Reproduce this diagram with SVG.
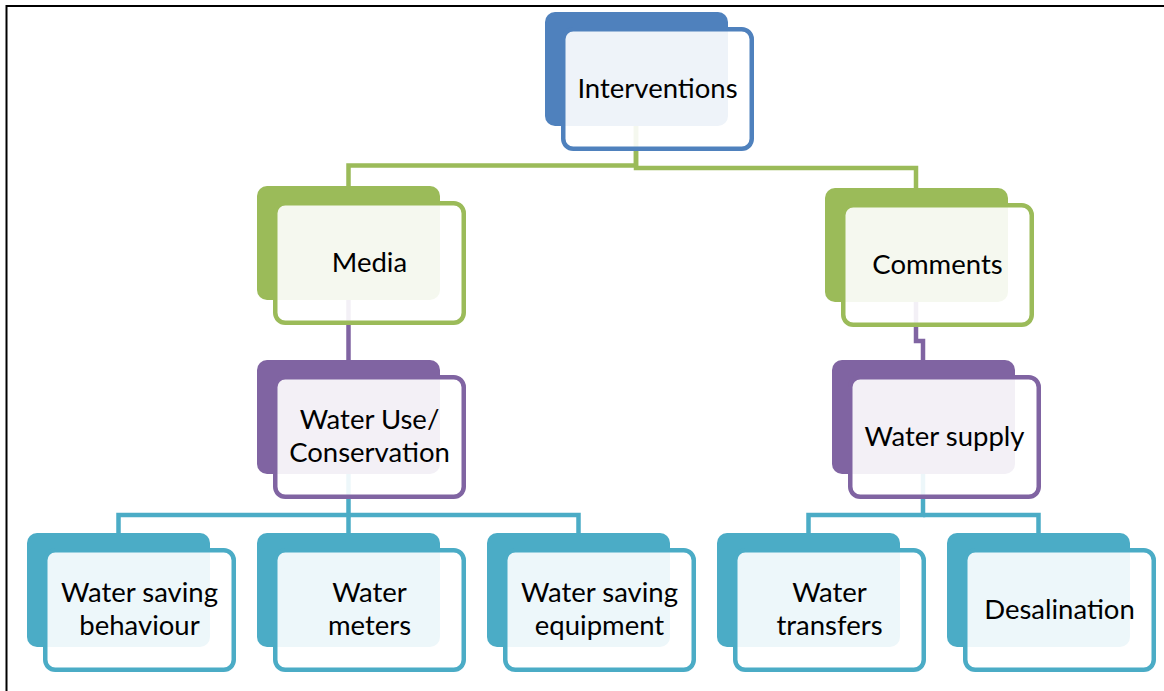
<svg xmlns="http://www.w3.org/2000/svg" width="1164" height="691" viewBox="0 0 1164 691">
  <style>
    .frame { stroke: #000; stroke-width: 2; fill: none; }
    .conn { fill: none; stroke-width: 4.5; stroke-linejoin: miter; }
    .back { stroke: none; }
    .front { fill: #fff; fill-opacity: 0.9; stroke-width: 4.5; }
    .label { font-family: Lato, "Liberation Sans", sans-serif; font-size: 27.5px; fill: #000; text-anchor: middle; }
    .blue .back { fill: #4F81BD; } .blue .front { stroke: #4F81BD; }
    .green .back { fill: #9BBB59; } .green .front { stroke: #9BBB59; }
    .purple .back { fill: #8064A2; } .purple .front { stroke: #8064A2; }
    .teal .back { fill: #4BACC6; } .teal .front { stroke: #4BACC6; }
  </style>

  <!-- page frame (top and left edges) -->
  <path class="frame" d="M6.5,691 V6 H1164"/>

  <!-- connectors -->
  <g id="connectors">
    <path class="conn" stroke="#9BBB59" d="M636,120 V165.5 H348.5 V190"/>
    <path class="conn" stroke="#9BBB59" d="M636,120 V168 H916 V192"/>
    <path class="conn" stroke="#8064A2" d="M348.5,295 V363"/>
    <path class="conn" stroke="#8064A2" d="M916,297 V341 H923 V363"/>
    <path class="conn" stroke="#4BACC6" d="M348.5,470 V515 H118.5 V536"/>
    <path class="conn" stroke="#4BACC6" d="M348.5,515 H578.5 V536"/>
    <path class="conn" stroke="#4BACC6" d="M348.5,515 V536"/>
    <path class="conn" stroke="#4BACC6" d="M923,470 V515 H808.5 V536"/>
    <path class="conn" stroke="#4BACC6" d="M923,515 H1038.5 V536"/>
  </g>

  <!-- level 1 -->
  <g id="interventions" class="blue">
    <rect class="back" x="545" y="12" width="183" height="114" rx="10"/>
    <rect class="front" x="563.25" y="29.25" width="188.5" height="119.5" rx="10"/>
    <text class="label" x="657.5" y="97.5">Interventions</text>
  </g>

  <!-- level 2 -->
  <g id="media" class="green">
    <rect class="back" x="257" y="186" width="183" height="114" rx="10"/>
    <rect class="front" x="275.25" y="203.25" width="188.5" height="119.5" rx="10"/>
    <text class="label" x="369.5" y="271.5">Media</text>
  </g>
  <g id="comments" class="green">
    <rect class="back" x="825" y="188" width="183" height="114" rx="10"/>
    <rect class="front" x="843.25" y="205.25" width="188.5" height="119.5" rx="10"/>
    <text class="label" x="937.5" y="273.5">Comments</text>
  </g>

  <!-- level 3 -->
  <g id="water-use" class="purple">
    <rect class="back" x="257" y="360" width="183" height="114" rx="10"/>
    <rect class="front" x="275.25" y="377.25" width="188.5" height="119.5" rx="10"/>
    <text class="label" x="369.5" y="428.5">Water Use/</text>
    <text class="label" x="369.5" y="462">Conservation</text>
  </g>
  <g id="water-supply" class="purple">
    <rect class="back" x="832" y="360" width="183" height="114" rx="10"/>
    <rect class="front" x="850.25" y="377.25" width="188.5" height="119.5" rx="10"/>
    <text class="label" x="944.5" y="445.5">Water supply</text>
  </g>

  <!-- level 4 -->
  <g id="water-saving-behaviour" class="teal">
    <rect class="back" x="27" y="533" width="183" height="114" rx="10"/>
    <rect class="front" x="45.25" y="550.25" width="188.5" height="119.5" rx="10"/>
    <text class="label" x="139.5" y="601.5">Water saving</text>
    <text class="label" x="139.5" y="635">behaviour</text>
  </g>
  <g id="water-meters" class="teal">
    <rect class="back" x="257" y="533" width="183" height="114" rx="10"/>
    <rect class="front" x="275.25" y="550.25" width="188.5" height="119.5" rx="10"/>
    <text class="label" x="369.5" y="601.5">Water</text>
    <text class="label" x="369.5" y="635">meters</text>
  </g>
  <g id="water-saving-equipment" class="teal">
    <rect class="back" x="487" y="533" width="183" height="114" rx="10"/>
    <rect class="front" x="505.25" y="550.25" width="188.5" height="119.5" rx="10"/>
    <text class="label" x="599.5" y="601.5">Water saving</text>
    <text class="label" x="599.5" y="635">equipment</text>
  </g>
  <g id="water-transfers" class="teal">
    <rect class="back" x="717" y="533" width="183" height="114" rx="10"/>
    <rect class="front" x="735.25" y="550.25" width="188.5" height="119.5" rx="10"/>
    <text class="label" x="829.5" y="601.5">Water</text>
    <text class="label" x="829.5" y="635">transfers</text>
  </g>
  <g id="desalination" class="teal">
    <rect class="back" x="947" y="533" width="183" height="114" rx="10"/>
    <rect class="front" x="965.25" y="550.25" width="188.5" height="119.5" rx="10"/>
    <text class="label" x="1059.5" y="618.5">Desalination</text>
  </g>
</svg>
